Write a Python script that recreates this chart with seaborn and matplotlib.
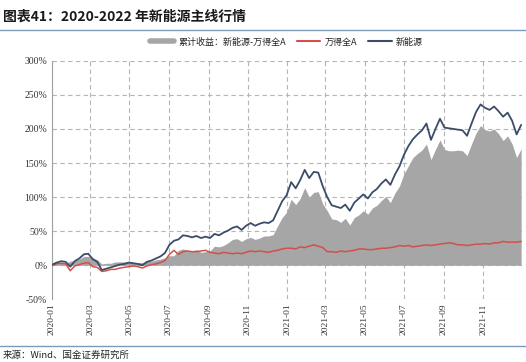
import pandas as pd
import numpy as np
import matplotlib
matplotlib.use("Agg")
import matplotlib.pyplot as plt
import matplotlib.dates as mdates
from matplotlib.lines import Line2D
import seaborn as sns

# Weekly readings (%), 2020-01-02 .. 2021-12-30
new_energy = [1, 4, 6, 5, -2, 6, 10, 16, 17, 9, 5, -7, -5, -3, -1, 1, 2, 4, 3, 2,
              0, 5, 7, 10, 13, 18, 30, 36, 38, 44, 43, 41, 43, 40, 42, 40, 46, 44, 48, 51,
              55, 57, 52, 58, 62, 58, 61, 63, 62, 66, 80, 94, 103, 122, 113, 125, 140, 128, 137, 136,
              116, 100, 88, 86, 84, 89, 80, 92, 98, 104, 98, 107, 112, 120, 126, 118, 133, 145, 162, 175,
              185, 192, 198, 208, 184, 200, 215, 202, 201, 200, 199, 198, 190, 208, 225, 236, 231, 228, 233, 226,
              218, 224, 212, 192, 206]
wind_all_a = [0, 2, 3, 2, -8, -1, 1, 3, 4, -2, -3, -9, -8, -6, -6, -4, -3, -2, -1, -2,
              -4, -1, 1, 2, 4, 7, 16, 22, 16, 20, 21, 20, 20, 21, 22, 19, 18, 17, 19, 18,
              17, 18, 17, 19, 21, 20, 21, 20, 19, 21, 22, 24, 25, 25, 24, 27, 26, 28, 30, 28,
              26, 20, 20, 19, 21, 20, 21, 22, 24, 24, 23, 23, 24, 25, 25, 26, 27, 29, 28, 29,
              27, 28, 29, 30, 29, 30, 31, 32, 33, 32, 30, 30, 29, 30, 31, 31, 32, 31, 33, 33,
              35, 34, 34, 34, 35]
excess = [1, 2, 3, 3, 6, 7, 9, 13, 13, 11, 8, 2, 3, 3, 5, 5, 5, 6, 4, 4,
          4, 6, 6, 8, 9, 11, 14, 14, 22, 24, 22, 21, 23, 19, 20, 21, 28, 27, 29, 33,
          38, 39, 35, 39, 41, 38, 40, 43, 43, 45, 58, 70, 78, 97, 89, 98, 114, 100, 107, 108,
          90, 80, 68, 67, 63, 69, 59, 70, 74, 80, 75, 84, 88, 95, 101, 92, 106, 116, 134, 146,
          158, 164, 169, 178, 155, 170, 184, 170, 168, 168, 169, 168, 161, 178, 194, 205, 199, 197, 200, 193,
          183, 190, 178, 158, 171]
tick_labels = ["2020-01", "2020-03", "2020-05", "2020-07", "2020-09", "2020-11",
               "2021-01", "2021-03", "2021-05", "2021-07", "2021-09", "2021-11"]
y_ticks = [-50, 0, 50, 100, 150, 200, 250, 300]

df = pd.DataFrame({
    "date": pd.date_range("2020-01-02", periods=len(new_energy), freq="7D"),
    "ne": new_energy,
    "a": wind_all_a,
    "ex": excess,
})

sns.set_style("white")
plt.rcParams["font.family"] = ["Noto Sans CJK SC", "DejaVu Sans"]

c_gray = "#a6a6a6"
c_red = "#d25049"
c_blue = "#3b4c69"

fig = plt.figure(figsize=(5.26, 3.62), dpi=100)
ax = fig.add_axes([0.098, 0.173, 0.894, 0.659])

# excess return area, then the two index lines
ax.fill_between(df["date"], 0, df["ex"], color=c_gray, lw=0, zorder=2)
sns.lineplot(data=df, x="date", y="a", ax=ax, color=c_red, lw=1.1, zorder=3)
sns.lineplot(data=df, x="date", y="ne", ax=ax, color=c_blue, lw=1.3, zorder=4)

ax.set_ylim(-50, 300)
ax.set_yticks(y_ticks)
ax.set_yticklabels([f"{v}%" for v in y_ticks], fontsize=7, color="#333333",
                   family="Liberation Serif")
ticks = pd.to_datetime([t + "-01" for t in tick_labels])
ax.set_xticks(ticks)
ax.set_xticklabels(tick_labels, rotation=90, fontsize=6.8, color="#333333",
                   family="Liberation Serif")
ax.set_xlim(pd.Timestamp("2020-01-01"), pd.Timestamp("2021-12-31"))
ax.tick_params(length=0, pad=3)
ax.set_xlabel("")
ax.set_ylabel("")
ax.grid(True, ls=(0, (4, 3)), color="#b5b5b5", lw=0.8, zorder=0)
for s in ["top", "right", "bottom"]:
    ax.spines[s].set_visible(False)
ax.spines["left"].set_color("#a0a0a0")
ax.spines["left"].set_linewidth(0.8)

handles = [Line2D([], [], color=c_gray, lw=4),
           Line2D([], [], color=c_red, lw=1.5),
           Line2D([], [], color=c_blue, lw=1.5)]
labels = ["累计收益：新能源-万得全A", "万得全A", "新能源"]
fig.legend(handles, labels, loc="center", bbox_to_anchor=(0.545, 0.884), ncol=3,
           frameon=False, fontsize=6.5, handlelength=2.6, columnspacing=1.2,
           handletextpad=0.5)

fig.text(0.006, 0.953, "图表41：2020-2022 年新能源主线行情", fontsize=10,
         fontweight="bold", color="#1a1a1a", va="center", ha="left", style="italic")
fig.add_artist(Line2D([0, 1], [0.917, 0.917], transform=fig.transFigure,
                      color="#7a9cbc", lw=1))
fig.add_artist(Line2D([0, 1], [0.044, 0.044], transform=fig.transFigure,
                      color="#7a9cbc", lw=1))
fig.text(0.006, 0.02, "来源：Wind、国金证券研究所", fontsize=6.8, color="#222222",
         va="center", ha="left")

fig.savefig("out.png", dpi=100)
